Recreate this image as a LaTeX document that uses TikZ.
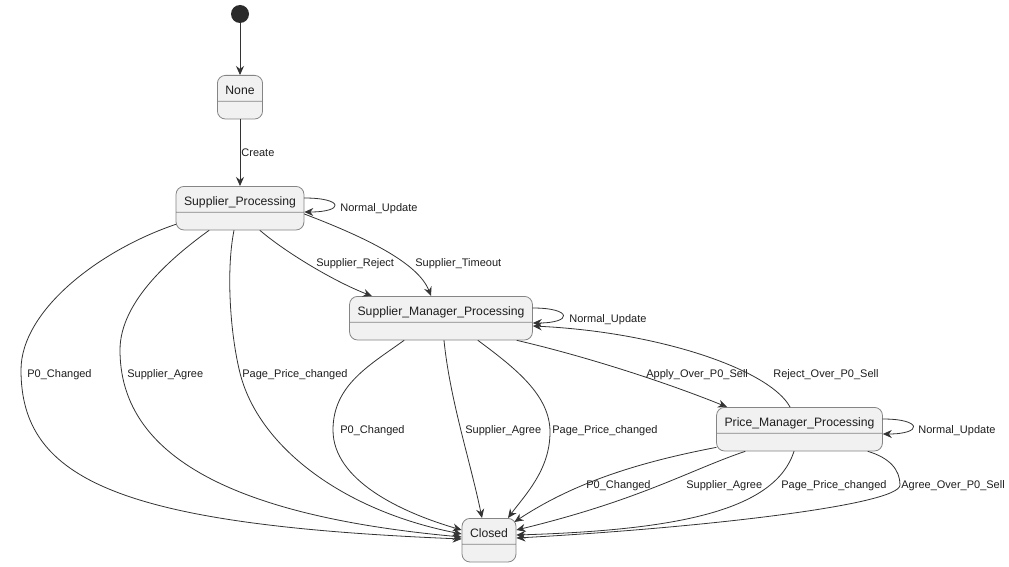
\documentclass[tikz,border=0pt]{standalone}
\usepackage{fontspec}
\setmainfont{Liberation Sans}
\usepackage{tikz}
\usetikzlibrary{arrows.meta, shapes.multipart}
\definecolor{uml_fill}{HTML}{F1F1F1}
\definecolor{uml_border}{HTML}{858585}
\definecolor{uml_line}{HTML}{333333}
\definecolor{uml_text}{HTML}{1E1E1E}

% state title with an empty lower compartment
\newcommand{\stname}[1]{\rule[-3pt]{0pt}{19pt}#1\nodepart{two}\rule{0pt}{11pt}}

\begin{document}
\begin{tikzpicture}[
    x=1pt, y=-1pt,
    line cap=round,
    line join=round,
    >={Stealth[length=9pt, width=8pt, inset=3pt]},
    stbox/.style={rectangle split, rectangle split parts=2,
        rounded corners=8pt, draw=uml_border, fill=uml_fill,
        line width=0.8pt, inner xsep=8pt, inner ysep=3pt, anchor=north,
        font=\fontsize{12.2}{14}\selectfont, text=uml_text},
    trans/.style={->, line width=0.8pt, draw=uml_line},
    lbl/.style={anchor=west, inner sep=0pt,
        font=\fontsize{11}{13}\selectfont, text=uml_text}
]

% Page frame (pixel grid, y downwards)
\useasboundingbox[fill=white] (0,0) rectangle (1009,567);

% Initial pseudo state
\node[circle, fill=uml_line!85!black, minimum size=18pt, inner sep=0pt]
    (start) at (240,14) {};

% States
\node[stbox] (none) at (240,75)    {\stname{None}};
\node[stbox] (sp)   at (240,186)   {\stname{Supplier\_Processing}};
\node[stbox] (smp)  at (441,296)   {\stname{Supplier\_Manager\_Processing}};
\node[stbox] (pmp)  at (799.5,407) {\stname{Price\_Manager\_Processing}};
\node[stbox] (cl)   at (489,518)   {\stname{Closed}};

% Entry
\draw[trans] (start) -- (none);
\draw[trans] (none) -- (sp) node[lbl] at (241,153) {Create};

% Supplier_Processing
\draw[trans] ([yshift=-12pt]sp.north east)
    .. controls +(40,0) and +(40,0) .. ([yshift=-26pt]sp.north east)
    node[lbl] at (340,209) {Normal\_Update};
\draw[trans] ([xshift=20pt]sp.south)
    .. controls (285,252) and (335,282) .. ([xshift=-69pt]smp.north)
    node[lbl] at (316,264) {Supplier\_Reject};
\draw[trans] ([yshift=-28pt]sp.north east)
    .. controls (362,236) and (418,262) .. ([xshift=-10pt]smp.north)
    node[lbl] at (415,264) {Supplier\_Timeout};
\draw[trans] ([yshift=6pt]sp.south west)
    .. controls (100,250) and (21,310) .. (21,370)
    .. controls (21,480) and (120,525) .. ([yshift=-21pt]cl.north west)
    node[lbl] at (27,375) {P0\_Changed};
\draw[trans] ([xshift=-31pt]sp.south)
    .. controls (175,255) and (120,300) .. (120,350)
    .. controls (120,450) and (220,515) .. ([yshift=-19pt]cl.north west)
    node[lbl] at (127,375) {Supplier\_Agree};
\draw[trans] ([xshift=-6pt]sp.south)
    .. controls (226,270) and (230,333) .. (240,373)
    .. controls (258,445) and (340,510) .. ([yshift=-16pt]cl.north west)
    node[lbl] at (242,375) {Page\_Price\_changed};

% Supplier_Manager_Processing
\draw[trans] ([yshift=-12pt]smp.north east)
    .. controls +(40,0) and +(40,0) .. ([yshift=-27pt]smp.north east)
    node[lbl] at (569,320) {Normal\_Update};
\draw[trans] ([xshift=-37pt]smp.south)
    .. controls (370,365) and (333,385) .. (333,430)
    .. controls (333,480) and (400,512) .. ([yshift=-12pt]cl.north west)
    node[lbl] at (340,431) {P0\_Changed};
\draw[trans] ([xshift=3pt]smp.south)
    .. controls (450,400) and (470,460) .. ([xshift=-7pt]cl.north)
    node[lbl] at (465,431) {Supplier\_Agree};
\draw[trans] ([xshift=37pt]smp.south)
    .. controls (515,368) and (550,395) .. (550,432)
    .. controls (550,470) and (525,495) .. ([xshift=19pt]cl.north)
    node[lbl] at (552,431) {Page\_Price\_changed};
\draw[trans] ([xshift=76pt]smp.south)
    .. controls (580,355) and (660,380) .. ([xshift=-72.5pt]pmp.north)
    node[lbl] at (646,375) {Apply\_Over\_P0\_Sell};

% Price_Manager_Processing
\draw[trans] ([xshift=-9.5pt]pmp.north)
    .. controls (770,370) and (660,332) .. ([yshift=-30pt]smp.north east)
    node[lbl] at (773,375) {Reject\_Over\_P0\_Sell};
\draw[trans] ([yshift=-12pt]pmp.north east)
    .. controls +(40,0) and +(40,0) .. ([yshift=-27pt]pmp.north east)
    node[lbl] at (918,431) {Normal\_Update};
\draw[trans] ([yshift=4pt]pmp.south west)
    .. controls (640,462) and (575,482) .. ([xshift=-2pt,yshift=-4pt]cl.north east)
    node[lbl] at (586,486) {P0\_Changed};
\draw[trans] ([xshift=-54.5pt]pmp.south)
    .. controls (690,470) and (640,500) .. ([yshift=-12pt]cl.north east)
    node[lbl] at (686,486) {Supplier\_Agree};
\draw[trans] ([xshift=-5.5pt]pmp.south)
    .. controls (775,510) and (680,530) .. ([yshift=-17pt]cl.north east)
    node[lbl] at (781,486) {Page\_Price\_changed};
\draw[trans] ([xshift=68.5pt]pmp.south)
    .. controls (890,458) and (900,470) .. (900,485)
    .. controls (900,505) and (700,528) .. ([yshift=-20pt]cl.north east)
    node[lbl] at (901,486) {Agree\_Over\_P0\_Sell};

\end{tikzpicture}
\end{document}
